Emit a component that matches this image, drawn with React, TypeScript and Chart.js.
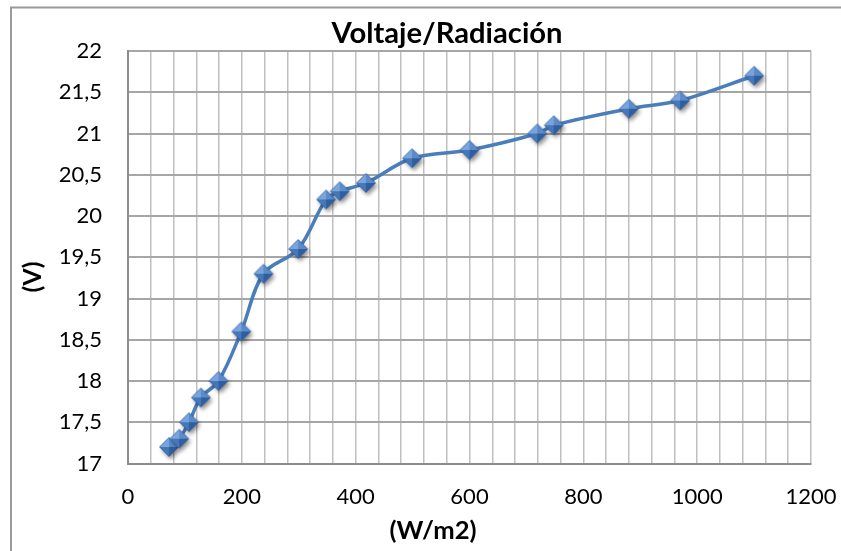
import React, { useEffect, useRef } from "react";
import { Chart, registerables } from "chart.js";

Chart.register(...registerables);

const chartTitle = "Voltaje/Radiación";
const xTitle = "(W/m2)";
const yTitle = "(V)";
const radiation = [72, 90, 107, 128, 159, 199, 238, 299, 348, 372, 418, 499, 600, 719, 748, 880, 970, 1100];
const voltage = [17.2, 17.3, 17.5, 17.8, 18.0, 18.6, 19.3, 19.6, 20.2, 20.3, 20.4, 20.7, 20.8, 21.0, 21.1, 21.3, 21.4, 21.7];
const xMin = 0, xMax = 1200, xGridStep = 40, xLabelStep = 200;
const yMin = 17, yMax = 22, yStep = 0.5;

function makeMarker(): HTMLCanvasElement {
  const c = document.createElement("canvas");
  const S = 30;
  c.width = S; c.height = S;
  const g = c.getContext("2d")!;
  const cx = S / 2, cy = S / 2, r = 9.5;
  g.save();
  g.shadowColor = "rgba(0,0,0,0.45)";
  g.shadowBlur = 4;
  g.shadowOffsetX = 2;
  g.shadowOffsetY = 3;
  g.fillStyle = "#3a6aa8";
  g.beginPath();
  g.moveTo(cx - r, cy); g.lineTo(cx, cy - r); g.lineTo(cx + r, cy); g.lineTo(cx, cy + r); g.closePath();
  g.fill();
  g.restore();
  const facet = (pts: number[][], col: string) => {
    g.fillStyle = col;
    g.beginPath();
    g.moveTo(pts[0][0], pts[0][1]);
    for (let i = 1; i < pts.length; i++) g.lineTo(pts[i][0], pts[i][1]);
    g.closePath();
    g.fill();
  };
  const c0 = [cx, cy];
  facet([[cx - r, cy], [cx, cy - r], c0], "#79a4dc");
  facet([[cx, cy - r], [cx + r, cy], c0], "#5b8bcb");
  facet([[cx - r, cy], [cx, cy + r], c0], "#4677b9");
  facet([[cx, cy + r], [cx + r, cy], c0], "#2f5f9f");
  g.strokeStyle = "rgba(40,80,140,0.6)";
  g.lineWidth = 0.8;
  g.beginPath();
  g.moveTo(cx - r, cy); g.lineTo(cx, cy - r); g.lineTo(cx + r, cy); g.lineTo(cx, cy + r); g.closePath();
  g.stroke();
  return c;
}

function fitFont(ctx: CanvasRenderingContext2D, text: string, weight: string, family: string, targetW: number) {
  ctx.font = `${weight} 100px ${family}`;
  const w = ctx.measureText(text).width;
  const size = (100 * targetW) / w;
  return `${weight} ${size.toFixed(1)}px ${family}`;
}

const decorPlugin = {
  id: "decor",
  beforeDraw(chart: any) {
    const ctx = chart.ctx as CanvasRenderingContext2D;
    ctx.save();
    ctx.fillStyle = "#ffffff";
    ctx.fillRect(0, 0, chart.width, chart.height);
    ctx.strokeStyle = "#9a9a9a";
    ctx.lineWidth = 2;
    ctx.beginPath();
    ctx.moveTo(11, chart.height);
    ctx.lineTo(11, 7.5);
    ctx.lineTo(chart.width, 7.5);
    ctx.stroke();
    ctx.restore();
  },
  afterDraw(chart: any) {
    const ctx = chart.ctx as CanvasRenderingContext2D;
    ctx.save();
    ctx.fillStyle = "#000000";
    ctx.textAlign = "center";
    ctx.font = fitFont(ctx, chartTitle, "bold", "Lato", 231);
    ctx.textBaseline = "alphabetic";
    ctx.fillText(chartTitle, 447, 43);
    ctx.font = fitFont(ctx, xTitle, "bold", "Lato", 87);
    ctx.textBaseline = "middle";
    ctx.fillText(xTitle, 433, 531);
    ctx.translate(33, 277);
    ctx.rotate(-Math.PI / 2);
    ctx.font = fitFont(ctx, yTitle, "bold", "Lato", 31);
    ctx.fillText(yTitle, 0, 0);
    ctx.restore();
  },
};

export default function App() {
  const ref = useRef<HTMLCanvasElement | null>(null);
  useEffect(() => {
    if (!ref.current) return;
    const marker = makeMarker();
    const chart = new Chart(ref.current, {
      type: "line",
      data: {
        datasets: [
          {
            data: radiation.map((x, i) => ({ x, y: voltage[i] })),
            borderColor: "#4a7ebb",
            borderWidth: 3.5,
            tension: 0.35,
            pointStyle: marker as any,
            pointRadius: 9,
            fill: false,
            clip: false as any,
          },
        ],
      },
      options: {
        animation: false,
        responsive: false,
        maintainAspectRatio: false,
        layout: { padding: { left: 0, right: 30, top: 51, bottom: 0 } },
        plugins: { legend: { display: false }, title: { display: false }, tooltip: { enabled: false } },
        scales: {
          x: {
            type: "linear",
            min: xMin,
            max: xMax,
            afterFit: (s: any) => {
              s.height = 551 - 463.5;
              s.paddingRight = 0;
              s.paddingLeft = 0;
            },
            afterBuildTicks: (s: any) => {
              const t = [];
              for (let v = xMin; v <= xMax; v += xGridStep) t.push({ value: v });
              s.ticks = t;
            },
            ticks: {
              autoSkip: false,
              maxRotation: 0,
              padding: 20,
              color: "#000000",
              font: { family: "Lato", size: 22 },
              callback: (v: any) => (Number(v) % xLabelStep === 0 ? String(v) : ""),
            },
            grid: { color: "#bfbfbf", lineWidth: 1.5, drawTicks: false },
            border: { color: "#8c8c8c", width: 2 },
          },
          y: {
            type: "linear",
            min: yMin,
            max: yMax,
            afterFit: (s: any) => {
              s.width = 128;
              s.paddingTop = 0;
              s.paddingBottom = 0;
            },
            ticks: {
              stepSize: yStep,
              padding: 26,
              color: "#000000",
              font: { family: "Lato", size: 22 },
              callback: (v: any) => String(v).replace(".", ","),
            },
            grid: { color: "#a6a6a6", lineWidth: 2, drawTicks: false },
            border: { color: "#8c8c8c", width: 2 },
          },
        },
      },
      plugins: [decorPlugin],
    });
    return () => chart.destroy();
  }, []);
  return (
    <div style={{ position: "fixed", left: 0, top: 0, width: 841, height: 551, background: "#fff" }}>
      <canvas ref={ref} width={841} height={551} style={{ display: "block", width: 841, height: 551 }} />
    </div>
  );
}
